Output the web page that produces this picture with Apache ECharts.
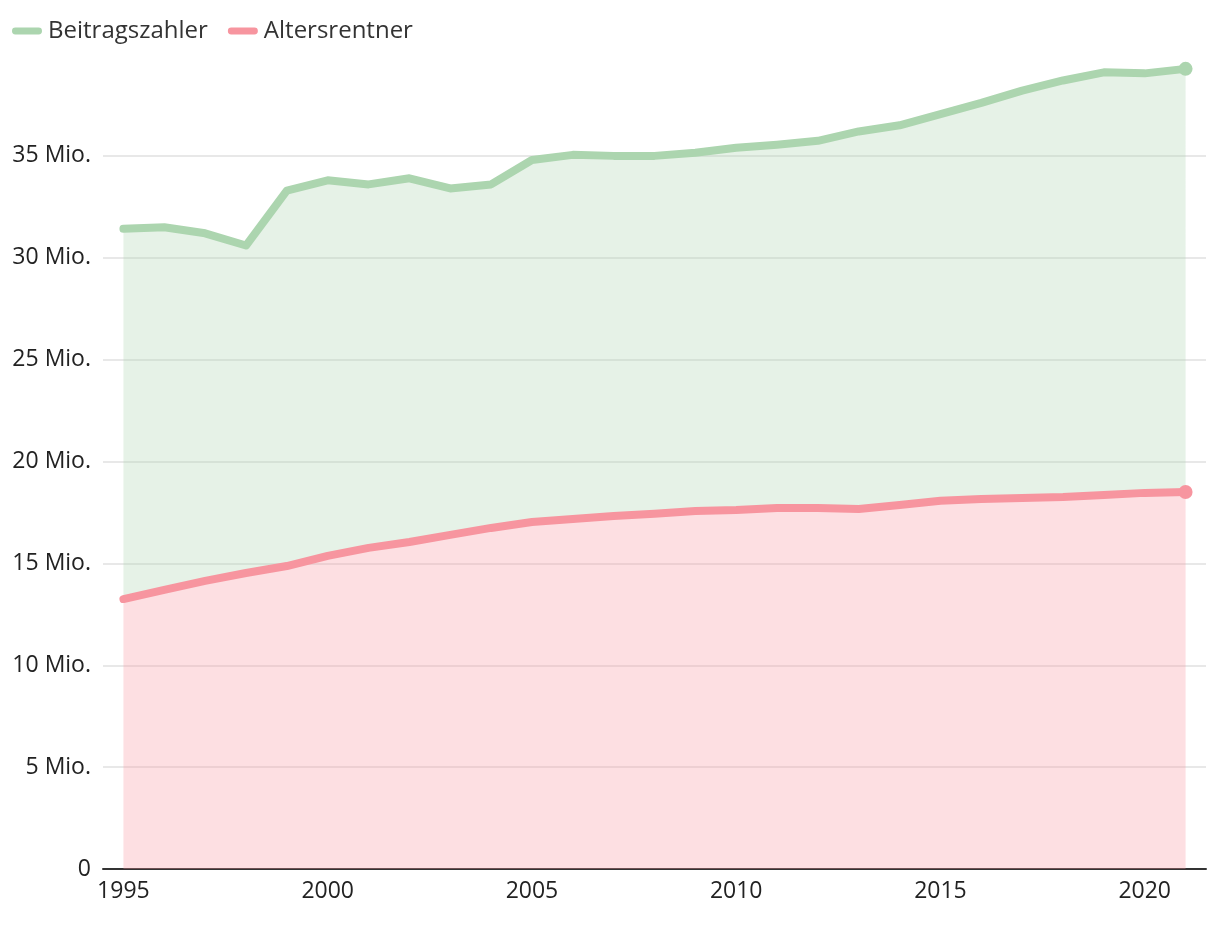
<!DOCTYPE html>
<html>
<head>
<meta charset="utf-8">
<script src="https://cdn.jsdelivr.net/npm/echarts@6/dist/echarts.min.js"></script>
<style>
html,body{margin:0;padding:0;background:#fff;}
#chart{width:1220px;height:926px;}
</style>
</head>
<body>
<div id="chart"></div>
<script>
const years = [1995,1996,1997,1998,1999,2000,2001,2002,2003,2004,2005,2006,2007,2008,2009,2010,2011,2012,2013,2014,2015,2016,2017,2018,2019,2020,2021];
const beitragszahler = [31.42,31.5,31.2,30.6,33.3,33.8,33.6,33.9,33.4,33.6,34.8,35.05,35.0,35.0,35.15,35.4,35.55,35.74,36.2,36.5,37.05,37.6,38.2,38.7,39.1,39.05,39.27];
const altersrentner = [13.25,13.7,14.14,14.53,14.87,15.37,15.76,16.05,16.4,16.74,17.03,17.18,17.33,17.43,17.57,17.62,17.72,17.72,17.67,17.87,18.07,18.16,18.21,18.26,18.36,18.46,18.5];
const seriesNames = ['Beitragszahler','Altersrentner'];

const GREEN = '#acd5af';
const RED = '#f7959f';
const FONT = '"Open Sans", "Noto Sans", sans-serif';

function withEndMarker(arr) {
  return arr.map((v, i) => i === arr.length - 1
    ? {value: v, symbol: 'circle', symbolSize: 14}
    : {value: v, symbol: 'none'});
}
const greenDiff = beitragszahler.map((v, i) => +(v - altersrentner[i]).toFixed(3));

const chart = echarts.init(document.getElementById('chart'), null, {renderer: 'canvas'});
const legendIcon = 'path://M3,0 L27,0 A3.5,3.5 0 0 1 27,7 L3,7 A3.5,3.5 0 0 1 3,0 Z';
chart.setOption({
  animation: false,
  backgroundColor: '#ffffff',
  textStyle: {fontFamily: FONT},
  legend: {
    data: [
      {name: seriesNames[0], icon: legendIcon, itemStyle: {color: GREEN}},
      {name: seriesNames[1], icon: legendIcon, itemStyle: {color: RED}}
    ],
    left: 7, top: 14,
    itemWidth: 30, itemHeight: 7, itemGap: 20,
    textStyle: {fontFamily: FONT, fontSize: 24, color: '#333', padding: [0,0,0,1]}
  },
  grid: {left: 103, right: 14, top: 54, bottom: 57, containLabel: false},
  xAxis: {
    type: 'category',
    data: years,
    boundaryGap: true,
    axisLine: {show: true, lineStyle: {color: '#333', width: 2}},
    axisTick: {show: false},
    axisLabel: {
      interval: (i, v) => (+v) % 5 === 0,
      fontFamily: FONT, fontSize: 23, color: '#222', margin: 11
    },
    splitLine: {show: false}
  },
  yAxis: {
    type: 'value',
    min: 0, max: 40, interval: 5,
    axisLine: {show: false},
    axisTick: {show: false},
    axisLabel: {
      showMaxLabel: false,
      fontFamily: FONT, fontSize: 23, color: '#222', margin: 12,
      formatter: v => v === 0 ? '0' : v + ' Mio.'
    },
    splitLine: {show: true, showMaxLine: false, lineStyle: {color: '#e0e0e0', width: 1.5}}
  },
  series: [
    {
      name: '_base', type: 'line', stack: 'g', data: altersrentner,
      symbol: 'none', lineStyle: {opacity: 0, width: 0}, silent: true, z: 1
    },
    {
      name: seriesNames[0], type: 'line', stack: 'g', data: withEndMarker(greenDiff),
      showSymbol: true, symbol: 'none',
      itemStyle: {color: GREEN},
      lineStyle: {color: GREEN, width: 8, join: 'round', cap: 'round'},
      areaStyle: {color: GREEN, opacity: 0.3},
      z: 2
    },
    {
      name: seriesNames[1], type: 'line', data: withEndMarker(altersrentner),
      showSymbol: true, symbol: 'none',
      itemStyle: {color: RED},
      lineStyle: {color: RED, width: 8, join: 'round', cap: 'round'},
      areaStyle: {color: RED, opacity: 0.3},
      z: 3
    }
  ]
});
</script>
</body>
</html>
